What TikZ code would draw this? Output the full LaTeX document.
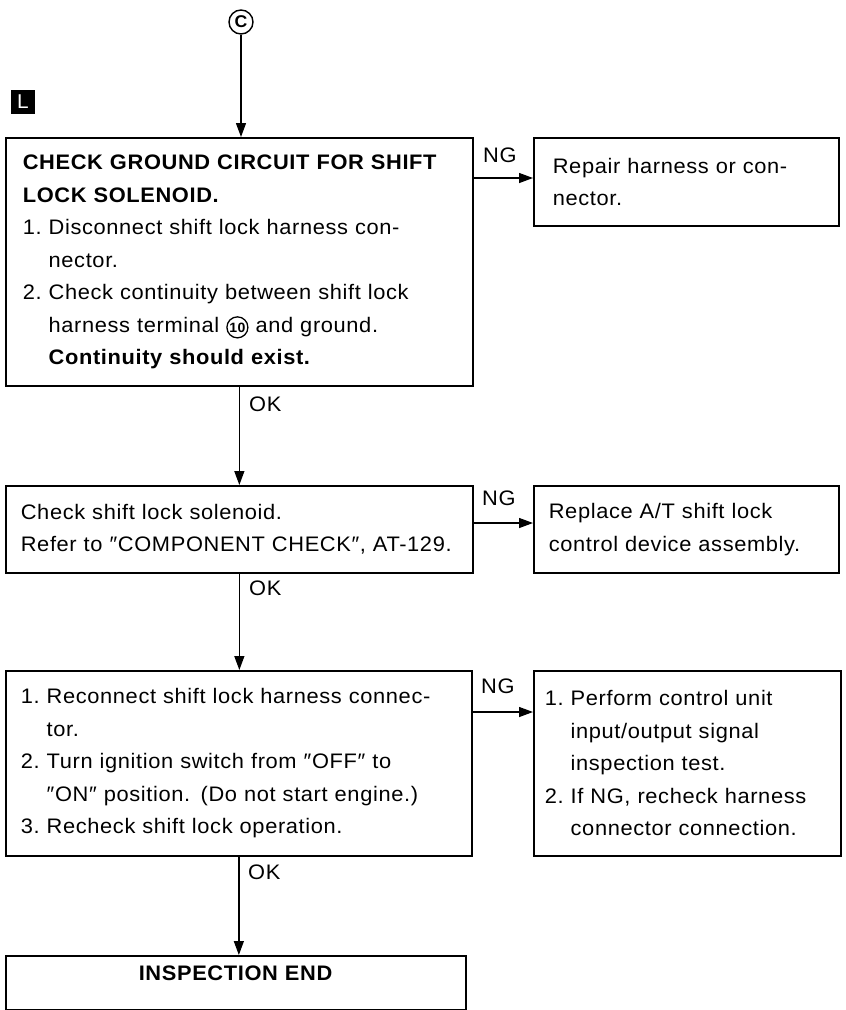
\documentclass[tikz,border=0pt]{standalone}
\usepackage{fontspec}
\setmainfont{Liberation Sans}[FakeStretch=1.04,LetterSpace=3]
\usetikzlibrary{arrows.meta}

% circled terminal number used inside the step text
\newcommand\circnum[1]{\tikz[baseline=(cn.base)]\node (cn) [draw, circle, line width=1.3pt,
  inner sep=0pt, minimum size=21pt, text width={}, align=center, anchor=base,
  font=\fontsize{13.5}{13.5}\selectfont\bfseries] {#1};}
% hanging indent for the continuation lines of numbered steps
\newcommand\hang{\phantom{1.\ }}

\begin{document}
\begin{tikzpicture}[x=1pt, y=-1pt,
  font=\fontsize{21}{32.5}\selectfont,
  box/.style={draw, line width=1.7pt, rectangle, align=left, anchor=north west, inner ysep=0pt},
  conn/.style={line width=1.3pt, -{Triangle[length=14pt,width=10pt]}},
  lbl/.style={inner sep=0pt, anchor=west}]
\useasboundingbox (0,0) rectangle (846,1010);

% entry point and section mark
\node[draw, circle, line width=1.4pt, minimum size=24pt, inner sep=0pt,
      font=\fontsize{17}{17}\selectfont\bfseries] (c) at (241,22) {C};
\node[fill=black, text=white, minimum size=24pt, inner sep=0pt,
      font=\fontsize{20}{20}\selectfont] (lmark) at (23,102) {L};

% main column
\node[box, text width=433pt, inner xsep=17pt, minimum height=248pt] (b1) at (5,137)
 {\textbf{CHECK GROUND CIRCUIT FOR SHIFT}\\
  \textbf{LOCK SOLENOID.}\\
  1.\ Disconnect shift lock harness con-\\
  \hang nector.\\
  2.\ Check continuity between shift lock\\
  \hang harness terminal \circnum{10} and ground.\\
  \hang\textbf{Continuity should exist.}};

\node[box, text width=437pt, inner xsep=15pt, minimum height=87pt] (b2) at (5,485)
 {Check shift lock solenoid.\\
  Refer to ″COMPONENT CHECK″, AT-129.};

\node[box, text width=436pt, inner xsep=15pt, minimum height=185pt] (b3) at (5,670)
 {1.\ Reconnect shift lock harness connec-\\
  \hang tor.\\
  2.\ Turn ignition switch from ″OFF″ to\\
  \hang ″ON″ position. (Do not start engine.)\\
  3.\ Recheck shift lock operation.};

\node[box, text width=460pt, inner xsep=0pt, align=center, text height=25pt,
      text depth=29pt] (b4) at (5,955) {\textbf{INSPECTION END}};

% NG column
\node[box, text width=267pt, inner xsep=19pt, minimum height=88pt] (r1) at (533,137)
 {Repair harness or con-\\
  nector.};

\node[box, text width=275pt, inner xsep=15pt, minimum height=87pt] (r2) at (533,485)
 {Replace A/T shift lock\\
  control device assembly.};

\node[box, text width=285pt, inner xsep=11pt, minimum height=185pt] (r3) at (533,670)
 {1.\ Perform control unit\\
  \hang input/output signal\\
  \hang inspection test.\\
  2.\ If NG, recheck harness\\
  \hang connector connection.};

% branch heights
\coordinate (y1) at (0,178);
\coordinate (y2) at (0,523);
\coordinate (y3) at (0,712);

% OK path
\draw[conn] (c) -- (c |- b1.north);
\draw[conn] (b1.south) -- (b1.south |- b2.north);
\draw[conn] (b2.south) -- (b2.south |- b3.north);
\draw[conn] (b3.south) -- (b3.south |- b4.north);

% NG branches
\draw[conn] (b1.east |- y1) -- (r1.west |- y1);
\draw[conn] (b2.east |- y2) -- (r2.west |- y2);
\draw[conn] (b3.east |- y3) -- (r3.west |- y3);

% branch labels
\node[lbl] (ok1) at (249,404) {OK};
\node[lbl] (ok2) at (249,588) {OK};
\node[lbl] (ok3) at (248,872) {OK};
\node[lbl] (ng1) at (483,155) {NG};
\node[lbl] (ng2) at (482,498) {NG};
\node[lbl] (ng3) at (481,686) {NG};
\end{tikzpicture}
\end{document}
